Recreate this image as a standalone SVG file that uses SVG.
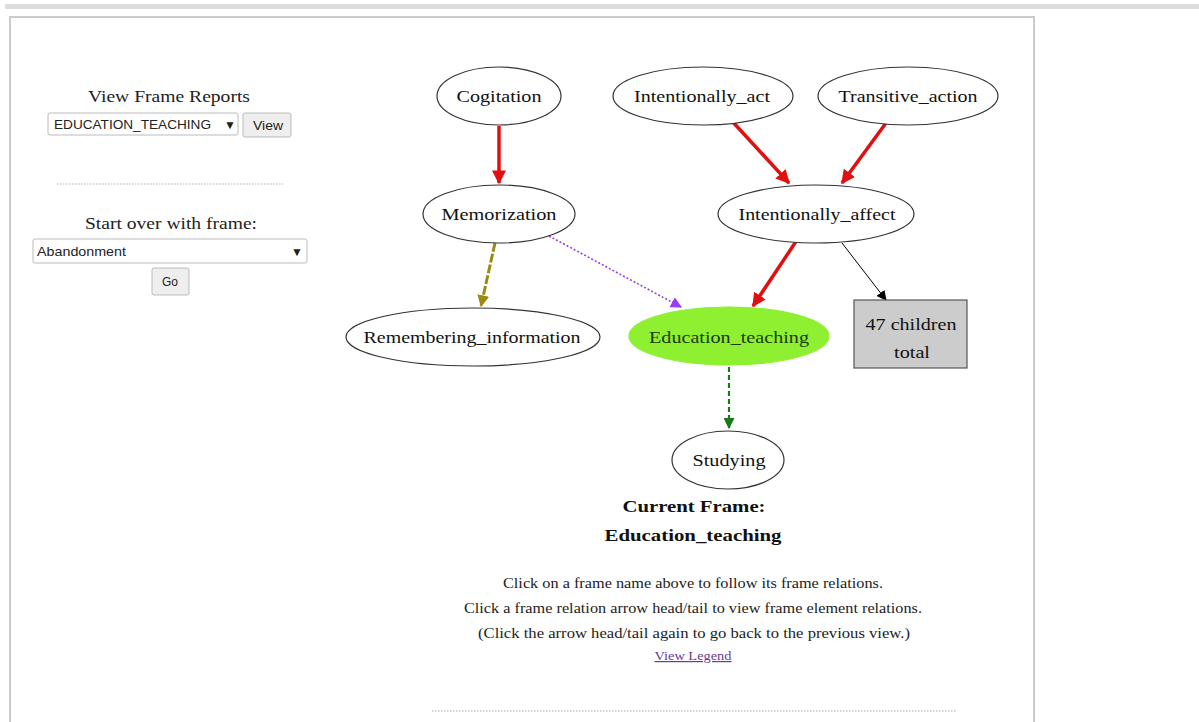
<svg xmlns="http://www.w3.org/2000/svg" width="1199" height="722" viewBox="0 0 1199 722">
<defs>
<style>
.node ellipse{fill:#fff;stroke:#333;stroke-width:1.2}
.lbl{font-family:"Liberation Serif",serif;font-size:17px;fill:#111;text-anchor:middle}
.ui{font-family:"Liberation Serif",serif;font-size:17px;fill:#222;text-anchor:middle}
.small{font-family:"Liberation Sans",sans-serif;font-size:12px;fill:#222}
.note{font-family:"Liberation Serif",serif;font-size:15px;fill:#222;text-anchor:middle}
.box{fill:#fff;stroke:#bbb;stroke-width:1}
.btn{fill:#eee;stroke:#bbb;stroke-width:1}
</style>
<marker id="ar" viewBox="0 0 10 10" refX="9" refY="5" markerWidth="4" markerHeight="4" orient="auto"><path d="M0,0L10,5L0,10z" fill="#e01010"/></marker>
<marker id="ao" viewBox="0 0 10 10" refX="9" refY="5" markerWidth="4" markerHeight="4" orient="auto"><path d="M0,0L10,5L0,10z" fill="#9a8a10"/></marker>
<marker id="ap" viewBox="0 0 10 10" refX="9" refY="5" markerWidth="7" markerHeight="7" orient="auto"><path d="M0,0L10,5L0,10z" fill="#9a3cf0"/></marker>
<marker id="ak" viewBox="0 0 10 10" refX="9" refY="5" markerWidth="10" markerHeight="10" orient="auto"><path d="M0,0L10,5L0,10z" fill="#000"/></marker>
<marker id="ag" viewBox="0 0 10 10" refX="9" refY="5" markerWidth="5" markerHeight="5" orient="auto"><path d="M0,0L10,5L0,10z" fill="#187a18"/></marker>
</defs>
<rect width="1199" height="722" fill="#fff"/>
<rect x="5" y="4" width="1194" height="5" fill="#ddd"/>
<path d="M10,722V17H1034V722" fill="none" stroke="#ccc" stroke-width="2"/>

<g id="panel">
<text class="ui" x="169" y="102" textLength="162" lengthAdjust="spacingAndGlyphs">View Frame Reports</text>
<rect class="box" x="48" y="113" width="190" height="22" rx="2"/>
<text class="small" x="54" y="129" textLength="157" lengthAdjust="spacingAndGlyphs">EDUCATION_TEACHING</text>
<text class="small" x="224" y="129" font-size="9">▼</text>
<rect class="btn" x="243" y="113" width="48" height="24" rx="2"/>
<text class="small" x="268" y="130" text-anchor="middle" textLength="30" lengthAdjust="spacingAndGlyphs">View</text>
<line x1="57" y1="184" x2="283" y2="184" stroke="#aab" stroke-width="1" stroke-dasharray="1.5,1.5"/>
<text class="ui" x="171" y="229" textLength="172" lengthAdjust="spacingAndGlyphs">Start over with frame:</text>
<rect class="box" x="33" y="239" width="274" height="24" rx="2"/>
<text class="small" x="37" y="256" textLength="89" lengthAdjust="spacingAndGlyphs">Abandonment</text>
<text class="small" x="291" y="256" font-size="9">▼</text>
<rect class="btn" x="152" y="268" width="37" height="27" rx="2"/>
<text class="small" x="170" y="286" text-anchor="middle">Go</text>
</g>

<g id="connectors" fill="none">
<line x1="499" y1="126" x2="499" y2="183" stroke="#e01010" stroke-width="3.5" marker-end="url(#ar)"/>
<line x1="731" y1="120" x2="789" y2="183" stroke="#e01010" stroke-width="3.5" marker-end="url(#ar)"/>
<line x1="886" y1="123" x2="842" y2="183" stroke="#e01010" stroke-width="3.5" marker-end="url(#ar)"/>
<line x1="495" y1="243" x2="481" y2="306" stroke="#9a8a10" stroke-width="3" stroke-dasharray="9,2" marker-end="url(#ao)"/>
<line x1="549" y1="236" x2="681" y2="307" stroke="#9a3cf0" stroke-width="1.6" stroke-dasharray="2,2" marker-end="url(#ap)"/>
<line x1="797" y1="240" x2="753" y2="306" stroke="#e01010" stroke-width="3.5" marker-end="url(#ar)"/>
<line x1="842" y1="243" x2="886" y2="300" stroke="#000" stroke-width="1" marker-end="url(#ak)"/>
<line x1="729" y1="367" x2="729" y2="428" stroke="#187a18" stroke-width="2.2" stroke-dasharray="5,3" marker-end="url(#ag)"/>
</g>

<g id="n-cogitation" class="node"><ellipse cx="499" cy="96" rx="62" ry="29"/><text class="lbl" x="499" y="102" textLength="85" lengthAdjust="spacingAndGlyphs">Cogitation</text></g>
<g id="n-intentionally-act" class="node"><ellipse cx="703" cy="96" rx="90" ry="29"/><text class="lbl" x="702" y="102" textLength="136" lengthAdjust="spacingAndGlyphs">Intentionally_act</text></g>
<g id="n-transitive-action" class="node"><ellipse cx="908" cy="96" rx="90" ry="29"/><text class="lbl" x="908" y="102" textLength="139" lengthAdjust="spacingAndGlyphs">Transitive_action</text></g>
<g id="n-memorization" class="node"><ellipse cx="499" cy="214" rx="76" ry="29"/><text class="lbl" x="499" y="220" textLength="115" lengthAdjust="spacingAndGlyphs">Memorization</text></g>
<g id="n-intentionally-affect" class="node"><ellipse cx="816" cy="214" rx="98" ry="29"/><text class="lbl" x="817" y="220" textLength="157" lengthAdjust="spacingAndGlyphs">Intentionally_affect</text></g>
<g id="n-remembering" class="node"><ellipse cx="473" cy="337" rx="127" ry="29"/><text class="lbl" x="472" y="343" textLength="217" lengthAdjust="spacingAndGlyphs">Remembering_information</text></g>
<g id="n-education" class="node"><ellipse cx="729" cy="336" rx="100" ry="29" style="fill:#8ef030;stroke:#8ef030"/><text class="lbl" x="729" y="343" style="fill:#1a3a0a" textLength="160" lengthAdjust="spacingAndGlyphs">Education_teaching</text></g>
<g id="n-children"><rect x="854" y="300" width="113" height="68" fill="#ccc" stroke="#555" stroke-width="1.2"/><text class="lbl" x="911" y="330" textLength="91" lengthAdjust="spacingAndGlyphs">47 children</text><text class="lbl" x="912" y="358" textLength="36" lengthAdjust="spacingAndGlyphs">total</text></g>
<g id="n-studying" class="node"><ellipse cx="728" cy="460" rx="56" ry="29"/><text class="lbl" x="729" y="466" textLength="73" lengthAdjust="spacingAndGlyphs">Studying</text></g>

<g id="info">
<text class="lbl" x="694" y="512" font-size="19" font-weight="bold" textLength="143" lengthAdjust="spacingAndGlyphs">Current Frame:</text>
<text class="lbl" x="693" y="541" font-size="19" font-weight="bold" textLength="177" lengthAdjust="spacingAndGlyphs">Education_teaching</text>
<text class="note" x="693" y="588" textLength="380" lengthAdjust="spacingAndGlyphs">Click on a frame name above to follow its frame relations.</text>
<text class="note" x="693" y="613" textLength="458" lengthAdjust="spacingAndGlyphs">Click a frame relation arrow head/tail to view frame element relations.</text>
<text class="note" x="694" y="638" textLength="432" lengthAdjust="spacingAndGlyphs">(Click the arrow head/tail again to go back to the previous view.)</text>
<text class="note" x="693" y="660" style="font-size:12px;fill:#6a3a9a" text-decoration="underline" textLength="77" lengthAdjust="spacingAndGlyphs">View Legend</text>
<line x1="432" y1="711" x2="956" y2="711" stroke="#aab" stroke-width="1" stroke-dasharray="1.5,1.5"/>
</g>
</svg>
